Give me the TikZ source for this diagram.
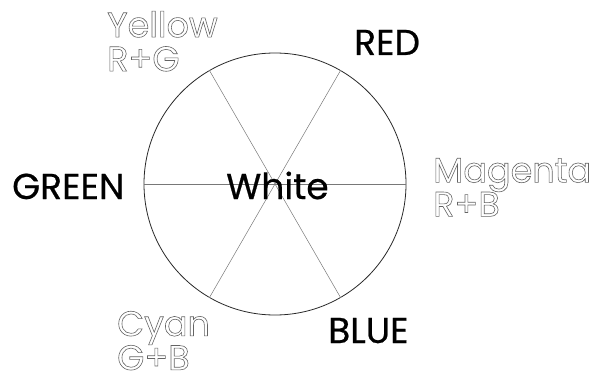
\documentclass[tikz,border=0pt]{standalone}
\usepackage{fontspec}
\setmainfont{Poppins}
\newfontfamily\labelfont{Poppins}[FakeBold=0.6]
\usepackage{xcolor}
\definecolor{wheelline}{RGB}{40,40,40}
\definecolor{spokegray}{RGB}{120,120,120}
\definecolor{mixgray}{RGB}{100,100,100}
\usetikzlibrary{positioning}
% hollow (outlined) letters for the mixed colours
\newcommand{\hollowtext}[1]{\special{pdf:literal direct 1 Tr 0.6 w}#1\special{pdf:literal direct 0 Tr 0.4 w}}
\tikzset{
  wheel/.style   = {draw=wheelline, line width=0.8pt},
  spoke/.style   = {draw=spokegray, line width=0.5pt},
  primary/.style = {inner sep=0pt, anchor=base west, font=\labelfont\fontsize{36}{34}\selectfont},
  mixed/.style   = {inner sep=0pt, anchor=north west, align=left, text=mixgray,
                    font=\fontsize{35}{34}\selectfont},
}

\begin{document}
\begin{tikzpicture}[x=1pt, y=1pt]
    \useasboundingbox (0,0) rectangle (610,381);

    % ── Colour wheel ────────────────────────────────────────────
    \coordinate (c) at (275,197);
    \node[circle, wheel, minimum size=262pt, inner sep=0pt] (wheel) at (c) {};
    \draw[spoke] (wheel.0)   -- (wheel.180);
    \draw[spoke] (wheel.60)  -- (wheel.240);
    \draw[spoke] (wheel.120) -- (wheel.300);

    % ── Primaries ───────────────────────────────────────────────
    \node[primary] (red)   at (354,326) {RED};
    \node[primary] (green) at (12,182)  {GREEN};
    \node[primary] (blue)  at (328,38)  {BLUE};
    \node[primary] (white) at (226,182) {White};

    % ── Mixtures (outlined) ─────────────────────────────────────
    \node[mixed] (yellow)  at (107,370) {\hollowtext{Yellow}\\\hollowtext{R+G}};
    \node[mixed] (magenta) at (433,223) {\hollowtext{Magenta}\\\hollowtext{R+B}};
    \node[mixed] (cyan)    at (117,70)  {\hollowtext{Cyan}\\\hollowtext{G+B}};
\end{tikzpicture}
\end{document}
